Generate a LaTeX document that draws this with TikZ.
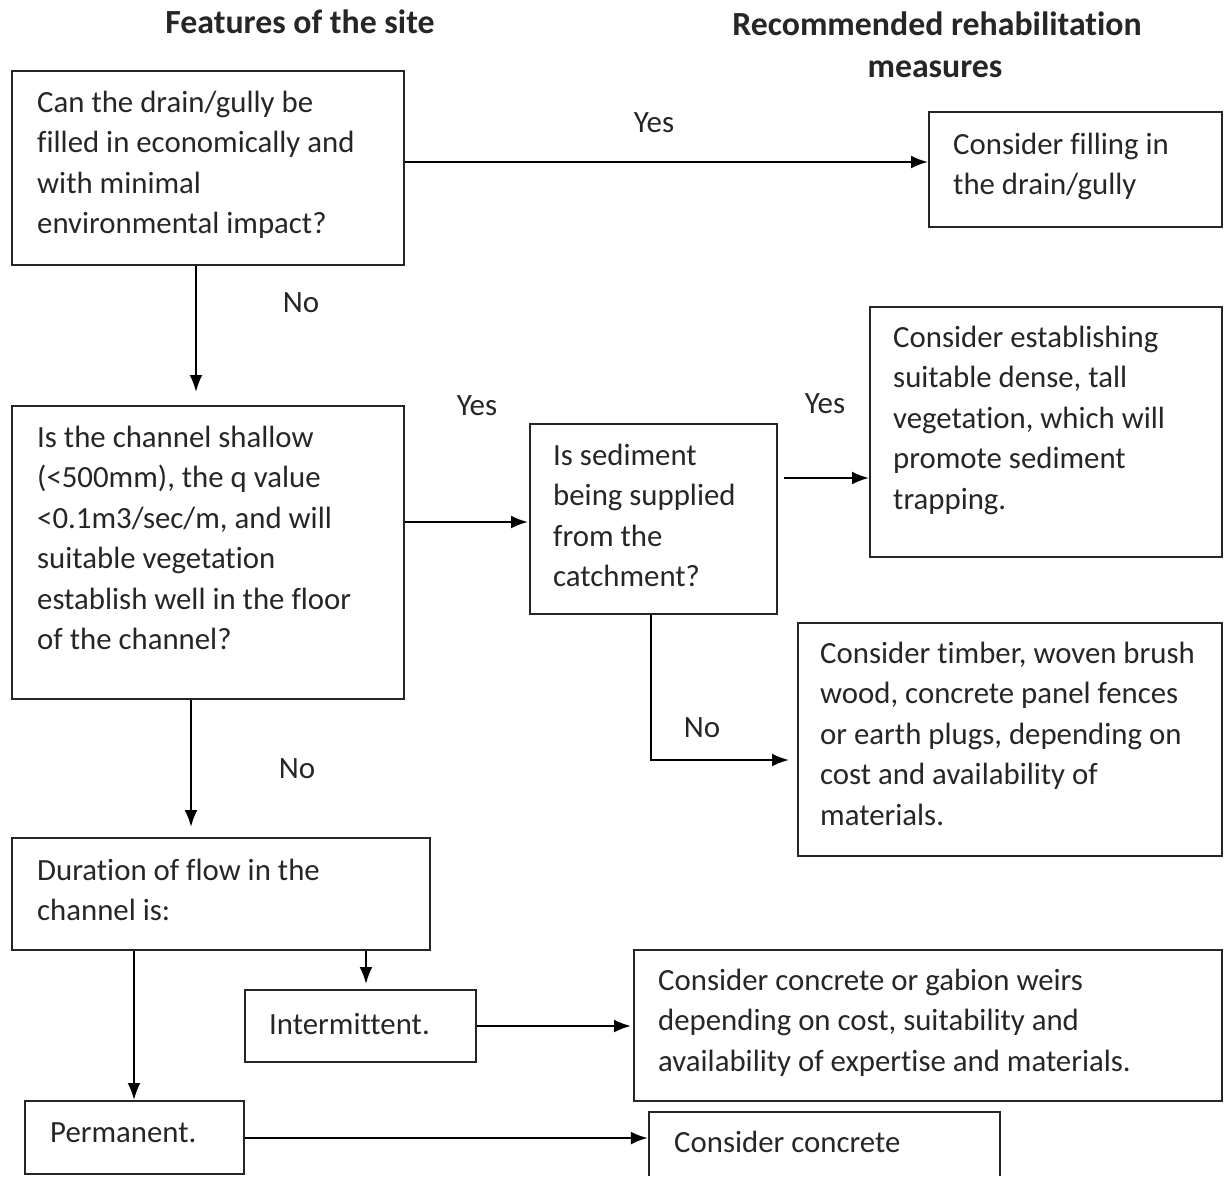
\documentclass[tikz,border=0pt]{standalone}
\usepackage{fontspec}
\setmainfont{Carlito}[Ligatures={NoCommon}]
\usetikzlibrary{arrows.meta}
\newcommand\mkbox[5]{\node[box, minimum width={#4-#2}, minimum height={#5-#3}] (#1) at ({(#2+#4)/2},{(#3+#5)/2}) {};}
\newcommand\mktext[4]{\node[txt] (#1) at (#2,{#3-19.5}) {\strut #4};}
\begin{document}
\begin{tikzpicture}[x=1pt,y=-1pt,
  box/.style={draw=black!85, line width=2pt, inner sep=0pt},
  boxline/.style={draw=black!85, line width=2pt},
  txt/.style={align=left, anchor=north west, inner sep=0pt, font=\fontsize{30.8}{40.5}\selectfont, text=black!85},
  lbl/.style={inner sep=0pt, font=\fontsize{31}{36}\selectfont, text=black!85},
  hdr/.style={inner sep=0pt, font=\fontsize{33.8}{38}\selectfont\bfseries, text=black!85},
  arr/.style={line width=2.2pt, -{Latex[length=17pt,width=13pt]}},
]
\useasboundingbox (0,0) rectangle (1224,1176);
% headers
\node[hdr] (h1) at (300,22) {Features of the site};
\node[hdr] (h2) at (937,24) {Recommended rehabilitation};
\node[hdr] (h3) at (935,69) {measures};
% boxes
\mkbox{A}{12}{71}{404}{265}
\mkbox{Fill}{929}{112}{1222}{227}
\mkbox{B}{12}{406}{404}{699}
\mkbox{C}{530}{424}{777}{614}
\mkbox{D}{870}{307}{1222}{557}
\mkbox{E}{798}{623}{1222}{856}
\mkbox{F}{12}{838}{430}{950}
\mkbox{Int}{245}{990}{476}{1062}
\mkbox{Perm}{25}{1101}{244}{1174}
\mkbox{G}{634}{950}{1222}{1101}
\node[inner sep=0pt, minimum width=351, minimum height=64] (H) at (824.5,1144) {};
\draw[boxline] (H.south west) -- (H.north west) -- (H.north east) -- (H.south east);
% texts
\mktext{At}{37}{103}{Can the drain/gully be\\filled in economically and\\with minimal\\environmental impact?}
\mktext{Fillt}{953}{145}{Consider filling in\\the drain/gully}
\mktext{Bt}{37}{438}{Is the channel shallow\\(<500mm), the q value\\<0.1m3/sec/m, and will\\suitable vegetation\\establish well in the floor\\of the channel?}
\mktext{Ct}{553}{456}{Is sediment\\being supplied\\from the\\catchment?}
\mktext{Dt}{893}{338}{Consider establishing\\suitable dense, tall\\vegetation, which will\\promote sediment\\trapping.}
\mktext{Et}{820}{654}{Consider timber, woven brush\\wood, concrete panel fences\\or earth plugs, depending on\\cost and availability of\\materials.}
\mktext{Ft}{37}{871}{Duration of flow in the\\channel is:}
\mktext{Intt}{269}{1025}{Intermittent.}
\mktext{Permt}{50}{1133}{Permanent.}
\mktext{Gt}{658}{981}{Consider concrete or gabion weirs\\depending on cost, suitability and\\availability of expertise and materials.}
\mktext{Ht}{674}{1143}{Consider concrete}
% helper coordinates
\coordinate (y162) at (0,162);
\coordinate (x196) at (196,0);
\coordinate (y522) at (0,522);
\coordinate (y478) at (0,478);
\coordinate (x651) at (651,0);
\coordinate (y760) at (0,760);
\coordinate (x191) at (191,0);
\coordinate (x366) at (366,0);
\coordinate (x134) at (134,0);
\coordinate (y1026) at (0,1026);
\coordinate (y1138) at (0,1138);
% connectors
\draw[arr] (A.east |- y162) -- (Fill.west |- y162);
\draw[arr, shorten >=13pt] (A.south -| x196) -- (B.north -| x196);
\draw[arr, shorten >=1pt] (B.east |- y522) -- (C.west |- y522);
\draw[arr, shorten <=6pt] (C.east |- y478) -- (D.west |- y478);
\draw[arr, shorten >=8pt] (C.south -| x651) |- (E.west |- y760);
\draw[arr, shorten >=10pt] (B.south -| x191) -- (F.north -| x191);
\draw[arr, shorten >=5pt] (F.south -| x366) -- (Int.north -| x366);
\draw[arr] (F.south -| x134) -- (Perm.north -| x134);
\draw[arr, shorten >=2pt] (Int.east |- y1026) -- (G.west |- y1026);
\draw[arr, shorten >=1pt] (Perm.east |- y1138) -- (H.west |- y1138);
% labels
\node[lbl] (l1) at (654,123) {Yes};
\node[lbl] (l2) at (301,303) {No};
\node[lbl] (l3) at (477,406) {Yes};
\node[lbl] (l4) at (825,404) {Yes};
\node[lbl] (l5) at (702,728) {No};
\node[lbl] (l6) at (297,769) {No};
\end{tikzpicture}
\end{document}
